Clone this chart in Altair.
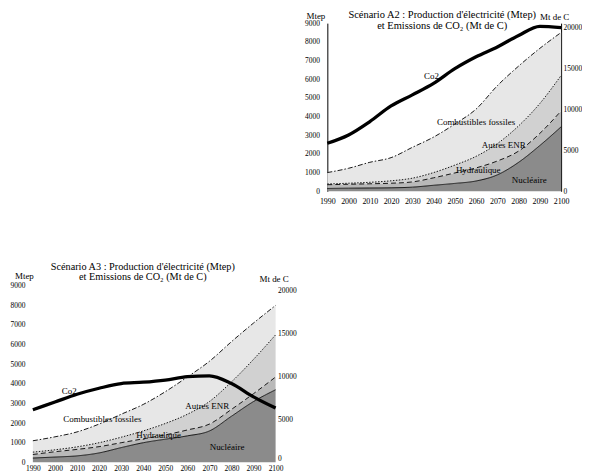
import altair as alt
import pandas as pd

years = [1990, 2000, 2010, 2020, 2030, 2040, 2050, 2060, 2070, 2080, 2090, 2100]

# Scénario A2 - upper edge of each stacked band (Mtep)
a2_nucleaire = [150, 165, 175, 185, 220, 320, 420, 550, 880, 1550, 2450, 3450]
a2_hydraulique = [350, 375, 400, 430, 500, 720, 980, 1250, 1620, 2150, 3100, 4300]
a2_autres_enr = [390, 430, 480, 560, 700, 1000, 1400, 1870, 2550, 3500, 4700, 6200]
a2_fossiles = [1000, 1230, 1550, 1800, 2350, 2900, 3600, 4400, 5650, 6700, 7650, 8500]
a2_co2 = [5850, 6870, 8500, 10400, 11750, 13150, 14950, 16400, 17600, 19000, 20100, 19950]

# Scénario A3 - upper edge of each stacked band (Mtep)
a3_nucleaire = [220, 270, 330, 480, 750, 1000, 1180, 1350, 1600, 2350, 3100, 3700]
a3_hydraulique = [400, 540, 660, 800, 1000, 1200, 1400, 1650, 1950, 2700, 3500, 4350]
a3_autres_enr = [520, 640, 790, 1000, 1280, 1600, 1980, 2450, 3100, 4100, 5250, 6500]
a3_fossiles = [1100, 1300, 1550, 1950, 2450, 2950, 3600, 4350, 5150, 6150, 7100, 8000]
a3_co2 = [6100, 7000, 7900, 8600, 9150, 9300, 9550, 9950, 10050, 9150, 7600, 6300]

categories = ["Nucléaire", "Hydraulique", "Autres ENR", "Combustibles fossiles"]

label_names = ["Co2", "Combustibles fossiles", "Autres ENR", "Hydraulique", "Nucléaire"]
a2_label_year = [2039, 2060, 2073, 2061, 2085]
a2_label_value = [6150, 3700, 2480, 1150, 610]
a3_label_year = [2006.5, 2021.5, 2069, 2047, 2078]
a3_label_value = [3630, 2200, 2870, 1400, 790]

mtep_ticks = [0, 1000, 2000, 3000, 4000, 5000, 6000, 7000, 8000, 9000]
co2_ticks = [0, 5000, 10000, 15000, 20000]

a2_title = ["Scénario A2 : Production d'électricité (Mtep)", "et Emissions de CO₂ (Mt de C)"]
a3_title = ["Scénario A3 : Production d'électricité (Mtep)", "et Emissions de CO₂ (Mt de C)"]

FONT = "Liberation Serif"
GRAYS = ["#8b8b8b", "#b9b9b9", "#d1d1d1", "#e7e7e7"]
DASHES = [[1, 0], [5, 3], [1.5, 1.5], [5, 2, 1.5, 2]]


def panel(tops, co2, lab_year, lab_value, title, w, h, xsize, ysize, xpad,
          domain_lines, right_flush, title_size, title_dx, title_offset, mtep_xy, mtc_xy):
    rows = []
    lo = [0] * len(years)
    for cat, top in zip(categories, tops):
        for yr, l, hi in zip(years, lo, top):
            rows.append({"year": yr, "lo": l, "hi": hi, "cat": cat})
        lo = top
    bands = pd.DataFrame(rows)
    labels = pd.DataFrame({"year": lab_year, "value": lab_value, "label": label_names})
    co2_df = pd.DataFrame({"year": years, "co2": co2})

    x = alt.X("year:Q", scale=alt.Scale(domain=[1990, 2100], nice=False, zero=False),
              axis=alt.Axis(values=years, format="d", title=None, grid=False, ticks=False,
                            domain=False, labelFont=FONT, labelFontSize=xsize,
                            labelPadding=xpad, labelFlush=False, labelOverlap=False,
                            labelColor="black"))
    yscale = alt.Scale(domain=[0, 9000], nice=False)
    yaxis = alt.Axis(values=mtep_ticks, format="d", title="Mtep", titleAngle=0,
                     titleAlign="center", titleBaseline="bottom",
                     titleX=mtep_xy[0], titleY=mtep_xy[1], titleFont=FONT,
                     titleFontSize=9, titleFontWeight="normal", titleColor="black",
                     labelFont=FONT, labelFontSize=ysize, labelColor="black",
                     labelPadding=8, grid=False, ticks=False, domain=domain_lines,
                     domainColor="black", domainWidth=1)

    areas = alt.Chart(bands).mark_area(interpolate="monotone").encode(
        x=x,
        y=alt.Y("lo:Q", scale=yscale, axis=yaxis),
        y2="hi:Q",
        color=alt.Color("cat:N", scale=alt.Scale(domain=categories, range=GRAYS), legend=None),
    )
    layers = [areas]
    for cat, top, dash in zip(categories, tops, DASHES):
        edge = pd.DataFrame({"year": years, "hi": top})
        layers.append(
            alt.Chart(edge).mark_line(interpolate="monotone", color="black",
                                      strokeWidth=0.9, strokeDash=dash).encode(
                x=x, y=alt.Y("hi:Q", scale=yscale, axis=yaxis))
        )
    layers.append(
        alt.Chart(labels).mark_text(font=FONT, fontSize=9, color="black").encode(
            x=x, y=alt.Y("value:Q", scale=yscale, axis=yaxis), text="label:N")
    )
    left = alt.layer(*layers)

    co2_line = alt.Chart(co2_df).mark_line(color="black", strokeWidth=3.3,
                                           interpolate="monotone").encode(
        x=x,
        y=alt.Y("co2:Q", scale=alt.Scale(domain=[0, 20500], nice=False),
                axis=alt.Axis(orient="right", values=co2_ticks, format="d",
                              title="Mt de C", titleAngle=0, titleAlign="center",
                              titleBaseline="bottom", titleX=mtc_xy[0], titleY=mtc_xy[1],
                              titleFont=FONT, titleFontSize=9, titleFontWeight="normal",
                              titleColor="black", labelFont=FONT, labelFontSize=ysize,
                              labelColor="black", labelPadding=2, labelFlush=right_flush,
                              grid=False, ticks=False, domain=domain_lines,
                              domainColor="black", domainWidth=1)),
    )
    return alt.layer(left, co2_line).resolve_scale(y="independent").properties(
        width=w, height=h,
        title=alt.TitleParams(text=title, font=FONT, fontSize=title_size, fontWeight="normal",
                              lineHeight=11, anchor="middle", dx=title_dx,
                              offset=title_offset, color="black"),
    )


top = panel([a2_nucleaire, a2_hydraulique, a2_autres_enr, a2_fossiles], a2_co2,
            a2_label_year, a2_label_value, a2_title, 235, 169, 8, 7.5, 6,
            True, False, 10.5, -2, -19.5, (-12, -2.5), (-7, -2))
bottom = panel([a3_nucleaire, a3_hydraulique, a3_autres_enr, a3_fossiles], a3_co2,
               a3_label_year, a3_label_value, a3_title, 244, 177.5, 7.5, 7.5, 2,
               False, True, 10.3, -11.5, -11, (-9, -5), (-2, -2))

spacer = alt.Chart(pd.DataFrame({"s": [0]})).mark_point(opacity=0).properties(width=273, height=10)

row1 = alt.hconcat(spacer, top, spacing=0)
chart = alt.vconcat(row1, bottom, spacing=56).properties(
    padding={"left": 2, "top": 0, "right": 0, "bottom": 0}
).configure_view(stroke=None)

chart.save("out.html", embed_options={"renderer": "svg", "actions": False})
